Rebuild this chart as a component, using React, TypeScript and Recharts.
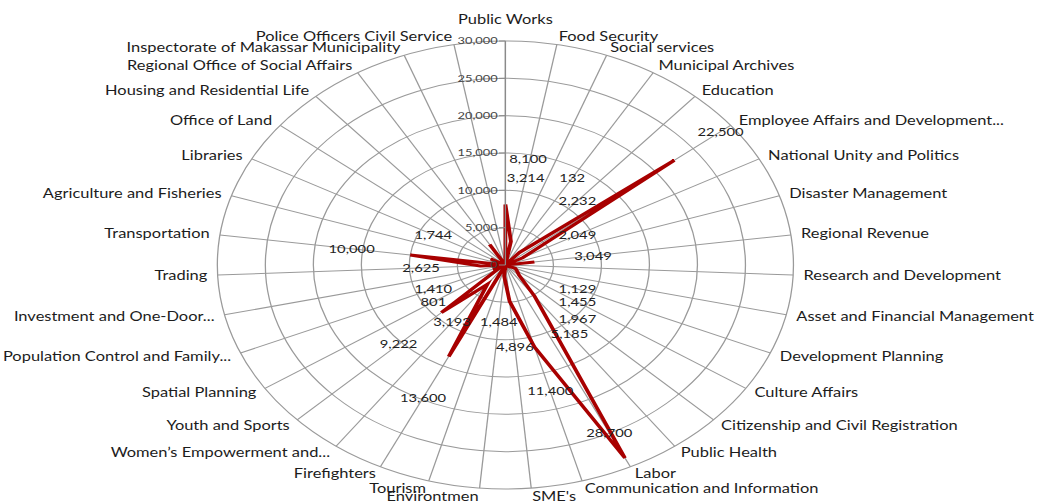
import { RadarChart, Radar, PolarGrid, PolarAngleAxis, PolarRadiusAxis } from "recharts";

const CATEGORIES = [
  "Public Works",
  "Food Security",
  "Social services",
  "Municipal Archives",
  "Education",
  "Employee Affairs and Development...",
  "National Unity and Politics",
  "Disaster Management",
  "Regional Revenue",
  "Research and Development",
  "Asset and Financial Management",
  "Development Planning",
  "Culture Affairs",
  "Citizenship and Civil Registration",
  "Public Health",
  "Labor",
  "Communication and Information",
  "SME's",
  "Environtmen",
  "Tourism",
  "Firefighters",
  "Women\u2019s Empowerment and...",
  "Youth and Sports",
  "Spatial Planning",
  "Population Control and Family...",
  "Investment and One-Door...",
  "Trading",
  "Transportation",
  "Agriculture and Fisheries",
  "Libraries",
  "Office of Land",
  "Housing and Residential Life",
  "Regional Office of Social Affairs",
  "Inspectorate of Makassar Municipality",
  "Police Officers Civil Service",
];

const VALUES = [
  8100, 3214, 0, 132, 2232, 22500, 2049, 0, 3049, 0, 0, 1129, 1455, 1967, 5185,
  28700, 11400, 4896, 1484, 0, 13600, 3193, 9222, 801, 1410, 0, 2625, 10000, 0,
  1744, 0, 0, 3200, 0, 0,
];

// this spike carries no data label in the reference
const UNLABELED = ["Regional Office of Social Affairs"];

const RADIUS_MAX = 30000;

const data = CATEGORIES.map((name, i) => ({ name, value: VALUES[i] }));

// the reference is a stretched Excel radar, so the chart is drawn round and then widened
const STRETCH = 1.286;
const W = 810;
const H = 501;
const CX = 393;
const CY = 265;
const OUTER = 224;
const FONT = "Lato, 'Open Sans', sans-serif";

const fmt = (v: number) => v.toLocaleString("en-US");

function CategoryTick(props: any) {
  const { x, y, textAnchor, payload } = props;
  const top = textAnchor === "middle" && y < CY;
  return (
    <text
      x={x}
      y={top ? y - 13 : y}
      dy="0.35em"
      textAnchor={textAnchor}
      fontSize={12.8}
      fontFamily={FONT}
      fill="#1c1c1c"
    >
      {payload.value}
    </text>
  );
}

function RadiusTick(props: any) {
  const { x, y, payload } = props;
  return (
    <g>
      <line x1={x - 5} y1={y} x2={x} y2={y} stroke="#8a8a8a" />
      <text
        x={x - 6}
        y={y}
        dy="0.35em"
        textAnchor="end"
        fontSize={10}
        fontFamily={FONT}
        fill="#444"
      >
        {fmt(payload.value)}
      </text>
    </g>
  );
}

// value labels go through the dot hook: small ones sit on a box round the
// centre, big ones a bit past their point, the longest one inside
function ValueLabel(props: any) {
  const { cx, cy, index } = props;
  const v = VALUES[index];
  if (!v || UNLABELED.includes(CATEGORIES[index])) return <g key={index} />;
  const dx = cx - CX;
  const dy = cy - CY;
  const r = Math.sqrt(dx * dx + dy * dy) || 1;
  const ux = dx / r;
  const uy = dy / r;
  const boxH = uy < 0 ? 87 : 57;
  const box = Math.min(
    Math.abs(ux) > 1e-6 ? 56 / Math.abs(ux) : Infinity,
    Math.abs(uy) > 1e-6 ? boxH / Math.abs(uy) : Infinity
  );
  let dist = Math.max(box, r + 46);
  if (dist > OUTER - 5) dist = r - 28;
  const onAxis = Math.abs(ux) < 0.05;
  return (
    <text
      key={index}
      x={CX + ux * dist + (onAxis ? 3 : 0)}
      y={CY + uy * dist}
      dy="0.35em"
      textAnchor={onAxis ? "start" : "middle"}
      fontSize={11.5}
      fontFamily={FONT}
      fill="#222"
    >
      {fmt(v)}
    </text>
  );
}

export default function App() {
  return (
    <div
      style={{
        position: "absolute",
        left: 0,
        top: 0,
        width: W,
        height: H,
        transform: `scaleX(${STRETCH})`,
        transformOrigin: "0 0",
        background: "#fff",
      }}
    >
      <RadarChart
        width={W}
        height={H}
        cx={CX}
        cy={CY}
        outerRadius={OUTER}
        data={data}
        margin={{ top: 0, right: 0, bottom: 0, left: 0 }}
      >
        <PolarGrid gridType="circle" stroke="#9a9a9a" />
        <PolarAngleAxis
          dataKey="name"
          tick={<CategoryTick />}
          tickLine={false}
          axisLine={false}
        />
        <PolarRadiusAxis
          angle={90}
          domain={[0, RADIUS_MAX]}
          tickCount={7}
          tick={<RadiusTick />}
          axisLine={{ stroke: "#8a8a8a" }}
        />
        <Radar
          dataKey="value"
          stroke="#a80000"
          strokeWidth={3}
          fill="none"
          fillOpacity={0}
          dot={ValueLabel}
          isAnimationActive={false}
        />
      </RadarChart>
    </div>
  );
}
